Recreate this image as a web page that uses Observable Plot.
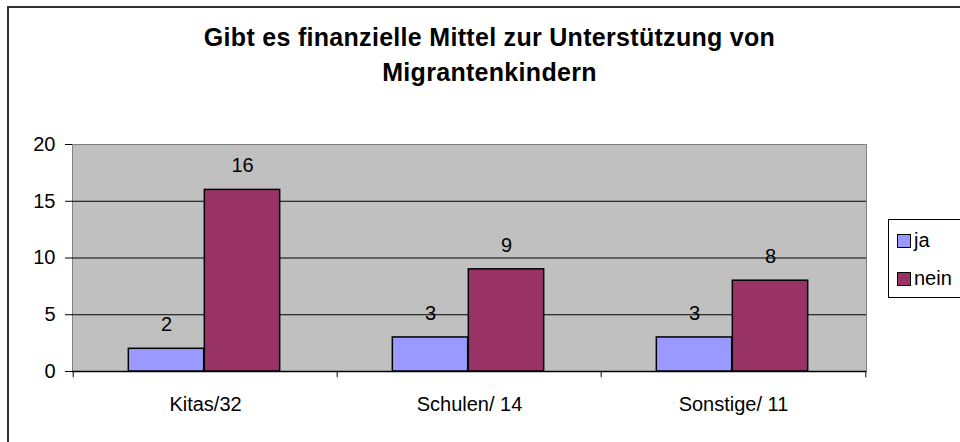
<!DOCTYPE html>
<html>
<head>
<meta charset="utf-8">
<script src="https://cdn.jsdelivr.net/npm/d3@7"></script>
<script src="https://cdn.jsdelivr.net/npm/@observablehq/plot@0.6"></script>
<style>
  html, body { margin: 0; padding: 0; background: #fff; }
  #wrap { position: relative; width: 960px; height: 442px; overflow: hidden; font-family: "Liberation Sans", Arial, sans-serif; color: #000; }
  #frame { position: absolute; left: 7px; top: 6px; width: 1000px; height: 1000px; border: 2px solid #333; }
  #title { position: absolute; left: 0; top: 20px; width: 979px; text-align: center; font-weight: bold; font-size: 25px; line-height: 35px; letter-spacing: 0.3px; }
  #chart { position: absolute; left: 0; top: 0; }
  #legend { position: absolute; left: 888px; top: 219px; width: 90px; height: 77px; border: 1px solid #000; background: #fff; }
  .sw { position: absolute; left: 8px; width: 12px; height: 12px; border: 1.5px solid #000; }
  .lt { position: absolute; left: 25px; font-size: 20px; line-height: 20px; }
</style>
</head>
<body>
<div id="wrap">
  <div id="frame"></div>
  <div id="chart"></div>
  <div id="title">Gibt es finanzielle Mittel zur Unterstützung von<br>Migrantenkindern</div>
  <div id="legend"></div>
</div>
<script>
const categories = ["Kitas/32", "Schulen/ 14", "Sonstige/ 11"];
const series = ["ja", "nein"];
const jaValues = [2, 3, 3];
const neinValues = [16, 9, 8];
const yTicks = [0, 5, 10, 15, 20];
const gridValues = [5, 10, 15];
const colors = { ja: "#9999FF", nein: "#993366" };

const ja = categories.map((c, i) => ({ category: c, value: jaValues[i] }));
const nein = categories.map((c, i) => ({ category: c, value: neinValues[i] }));

const W = 960, H = 442;
const mL = 72, mR = 94, mT = 144, mB = 71;
const band = (W - mL - mR) / categories.length;
const half = band / 2;
const barW = 76;
const inner = half - 1;

const chart = Plot.plot({
  width: W,
  height: H,
  marginLeft: mL,
  marginRight: mR,
  marginTop: mT,
  marginBottom: mB,
  style: { fontFamily: "Liberation Sans, Arial, sans-serif", fontSize: "20px", color: "#000", background: "transparent", overflow: "visible" },
  x: { domain: categories, padding: 0, label: null, tickSize: 0, tickPadding: 25 },
  y: { domain: [0, 20], ticks: yTicks, label: null, tickSize: 7, tickPadding: 10 },
  marks: [
    Plot.frame({ fill: "#C0C0C0", stroke: "#808080" }),
    Plot.ruleY(gridValues, { stroke: "#000", strokeWidth: 1 }),
    Plot.ruleY([0], { stroke: "#000", strokeWidth: 1.5 }),
    Plot.ruleX(categories, { x: d => d, y1: 0, y2: -0.55, dx: -half, stroke: "#000" }),
    Plot.ruleX(categories.slice(-1), { x: d => d, y1: 0, y2: -0.55, dx: half, stroke: "#000" }),
    Plot.barY(ja, { x: "category", y: "value", fill: colors.ja, stroke: "#000", strokeWidth: 1.5,
      insetLeft: inner - barW, insetRight: band - inner }),
    Plot.barY(nein, { x: "category", y: "value", fill: colors.nein, stroke: "#000", strokeWidth: 1.5,
      insetLeft: inner, insetRight: band - inner - barW }),
    Plot.text(ja, { x: "category", y: "value", text: d => String(d.value), dx: -barW / 2 - 1, dy: -24, fontSize: 20, fill: "#000" }),
    Plot.text(nein, { x: "category", y: "value", text: d => String(d.value), dx: barW / 2 - 1, dy: -24, fontSize: 20, fill: "#000" })
  ]
});
document.getElementById("chart").append(chart);

const legend = document.getElementById("legend");
series.forEach((s, i) => {
  const sw = document.createElement("div");
  sw.className = "sw";
  sw.style.top = (14 + i * 38) + "px";
  sw.style.background = colors[s];
  legend.append(sw);
  const t = document.createElement("div");
  t.className = "lt";
  t.style.top = (10 + i * 38) + "px";
  t.textContent = s;
  legend.append(t);
});
</script>
</body>
</html>
